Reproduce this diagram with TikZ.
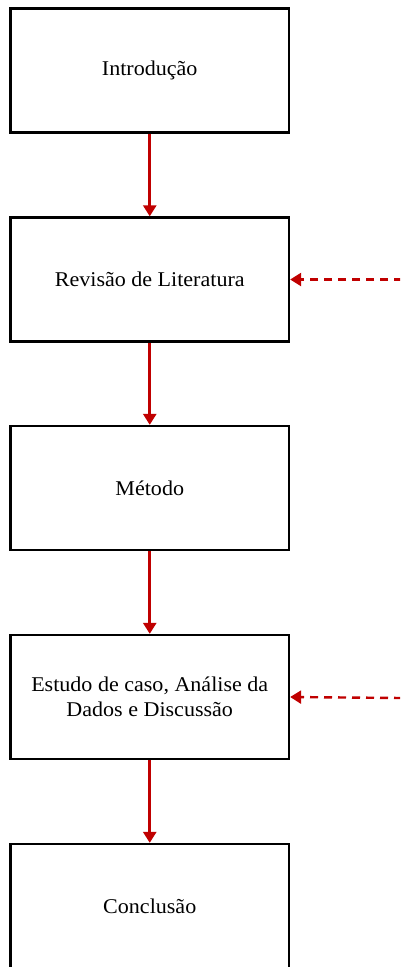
\documentclass[tikz,border=0pt]{standalone}
\usepackage{fontspec}
\setmainfont[FakeStretch=1.05]{Liberation Serif}
\usetikzlibrary{arrows.meta}
\definecolor{flowred}{HTML}{C00000}
\tikzset{
  x=1pt, y=-1pt,
  stagebox/.style={draw=black, line width=2.3pt, fill=white, minimum width=278.5pt,
    minimum height=124pt, align=center, inner sep=4pt,
    font=\fontsize{21}{25}\selectfont},
  flow/.style={draw=flowred, line width=2.6pt,
    -{Triangle[length=11pt, width=13pt]}},
  feedback/.style={draw=flowred, line width=2.4pt, dash pattern=on 8pt off 6pt,
    -{Triangle[length=11pt, width=13pt]}}
}
\begin{document}
\begin{tikzpicture}
\useasboundingbox[fill=white] (0,0) rectangle (400,967);
\begin{scope}
\clip (0,0) rectangle (400,967);
\node[stagebox] (intro) at (149.75,70.5) {Introdução};
\node[stagebox] (rev)   at (149.75,279.5) {Revisão de Literatura};
\node[stagebox] (met)   at (149.75,488) {Método};
\node[stagebox] (caso)  at (149.75,697) {Estudo de caso, Análise da\\Dados e Discussão};
\node[stagebox] (conc)  at (149.75,906) {Conclusão};

\draw[flow] (intro.south) -- (rev.north);
\draw[flow] (rev.south) -- (met.north);
\draw[flow] (met.south) -- (caso.north);
\draw[flow] (caso.south) -- (conc.north);

\coordinate (inRev) at (402,279.5);
\coordinate (inCaso) at (402,698);
\draw[feedback] (inRev) -- (rev.east);
\draw[feedback] (inCaso) -- (caso.east);
\end{scope}
\end{tikzpicture}
\end{document}
